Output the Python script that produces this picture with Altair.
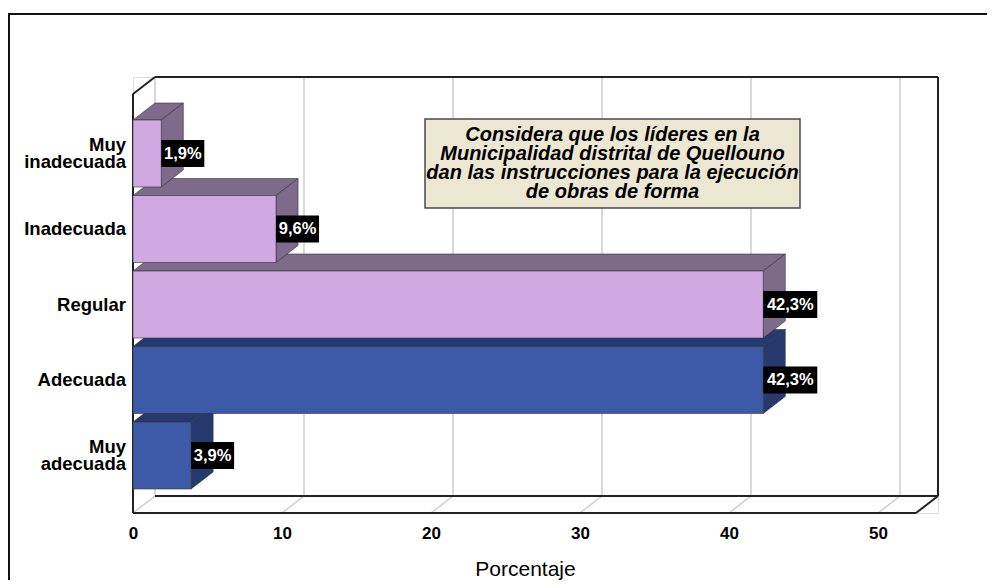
import altair as alt
import pandas as pd

# ---------------- data ----------------
categories = ["Muy inadecuada", "Inadecuada", "Regular", "Adecuada", "Muy adecuada"]
category_labels = ["Muy\ninadecuada", "Inadecuada", "Regular", "Adecuada", "Muy\nadecuada"]
percentages = [1.9, 9.6, 42.3, 42.3, 3.9]
value_labels = ["1,9%", "9,6%", "42,3%", "42,3%", "3,9%"]
face_colors = ["#D0A9E3", "#D0A9E3", "#D0A9E3", "#3D5AA8", "#3D5AA8"]
shade_colors = ["#7E6A8B", "#7E6A8B", "#7E6A8B", "#26396F", "#26396F"]
x_ticks = [0, 10, 20, 30, 40, 50]
x_title = "Porcentaje"
box_title = [
    "Considera que los líderes en la",
    "Municipalidad distrital de Quellouno",
    "dan las instrucciones para la ejecución",
    "de obras de forma",
]

# ---------------- layout ----------------
W, H = 805, 436
PX_X = 14.9                 # pixels per percentage point
X_MAX = W / PX_X
PX_Y = 75.5                 # pixels per category step
Y_MIN = -76.5 / PX_Y
Y_MAX = Y_MIN + H / PX_Y
DX = 22 / PX_X              # 3D depth (x)
DY = 17 / PX_Y              # 3D depth (y)
HALF = 33.5 / PX_Y          # half bar height
LBL_HALF = 13.5 / PX_Y      # half label-box height
CAT_LH = 17                 # line height of category labels (px)
TITLE_LH = 19               # line height of the boxed title (px)
FONT = "Liberation Sans, Arial, sans-serif"

xs = alt.Scale(domain=[0, X_MAX], nice=False, zero=False)
ys = alt.Scale(domain=[Y_MIN, Y_MAX], nice=False, zero=False, reverse=True)

x_axis = alt.Axis(
    values=x_ticks, format="d", domain=False, ticks=False, tickSize=0, grid=False,
    labelFont=FONT, labelFontSize=17, labelFontWeight="bold", labelColor="#000",
    labelPadding=12, labelFlush=False, labelOverlap=False, zindex=1,
    title=x_title, titleFont=FONT, titleFontSize=21, titleFontWeight="normal",
    titleColor="#000", titleX=392, titleY=62, titleBaseline="alphabetic", titleAlign="center",
)


def X(field="x"):
    return alt.X(f"{field}:Q", scale=xs, axis=x_axis)


def Y(field="y"):
    return alt.Y(f"{field}:Q", scale=ys, axis=None)


idx = list(range(len(categories)))

# ---------------- tables ----------------
front = pd.DataFrame({
    "cat": categories,
    "x": [0.0] * len(categories),
    "x2": percentages,
    "y": [i - HALF for i in idx],
    "y2": [i + HALF for i in idx],
    "fill": face_colors,
})

top_rows, side_rows = [], []
for i, v, c in zip(idx, percentages, shade_colors):
    t = i - HALF
    b = i + HALF
    top_rows += [
        {"cat": categories[i], "x": 0.0, "y": t, "y2": t, "fill": c},
        {"cat": categories[i], "x": DX, "y": t, "y2": t - DY, "fill": c},
        {"cat": categories[i], "x": v, "y": t, "y2": t - DY, "fill": c},
        {"cat": categories[i], "x": v + DX, "y": t - DY, "y2": t - DY, "fill": c},
    ]
    side_rows += [
        {"cat": categories[i], "x": v, "y": t, "y2": b, "fill": c},
        {"cat": categories[i], "x": v + DX, "y": t - DY, "y2": b - DY, "fill": c},
    ]
top_df = pd.DataFrame(top_rows)
side_df = pd.DataFrame(side_rows)

grid_rows = []
for t in x_ticks:
    grid_rows.append({"x": t + DX, "x2": t + DX, "y": Y_MIN, "y2": Y_MAX - DY})
    grid_rows.append({"x": t, "x2": t + DX, "y": Y_MAX, "y2": Y_MAX - DY})
grid_df = pd.DataFrame(grid_rows)

frame_df = pd.DataFrame([
    {"x": 0, "x2": 0, "y": Y_MIN + DY, "y2": Y_MAX},
    {"x": 0, "x2": DX, "y": Y_MIN + DY, "y2": Y_MIN},
    {"x": DX, "x2": X_MAX, "y": Y_MIN, "y2": Y_MIN},
    {"x": X_MAX, "x2": X_MAX, "y": Y_MIN, "y2": Y_MAX - DY},
    {"x": X_MAX, "x2": X_MAX - DX, "y": Y_MAX - DY, "y2": Y_MAX},
    {"x": 0, "x2": X_MAX - DX, "y": Y_MAX, "y2": Y_MAX},
    {"x": DX, "x2": X_MAX, "y": Y_MAX - DY, "y2": Y_MAX - DY},
])

labels_df = pd.DataFrame({"x": percentages, "label": value_labels, "y": idx})

# category labels: first-line position so that the whole block is centred on the bar
cat_df = pd.DataFrame({
    "label": category_labels,
    "y": [i - (lab.count("\n") * CAT_LH / 2) / PX_Y for i, lab in zip(idx, category_labels)],
})
one = pd.DataFrame({"t": ["\n".join(box_title)]})

# ---------------- layers ----------------
border = alt.Chart(one).mark_rect(fill="white", fillOpacity=0, stroke="#111", strokeWidth=2).encode(
    x=alt.value(-124), x2=alt.value(W + 60), y=alt.value(-63), y2=alt.value(H + 100)
)

grid = alt.Chart(grid_df).mark_rule(color="#cccccc", strokeWidth=1.5).encode(
    x=X(), x2="x2:Q", y=Y(), y2="y2:Q"
)

frame = alt.Chart(frame_df).mark_rule(color="#222222", strokeWidth=2).encode(
    x=X(), x2="x2:Q", y=Y(), y2="y2:Q"
)

tops = alt.Chart(top_df).mark_area(stroke="#333333", strokeWidth=0.6, opacity=1).encode(
    x=X(), y=Y(), y2="y2:Q", detail="cat:N", color=alt.Color("fill:N", scale=None)
)

sides = alt.Chart(side_df).mark_area(stroke="#333333", strokeWidth=0.6, opacity=1).encode(
    x=X(), y=Y(), y2="y2:Q", detail="cat:N", color=alt.Color("fill:N", scale=None)
)

fronts = alt.Chart(front).mark_rect(stroke="#333333", strokeWidth=0.6).encode(
    x=X(), x2="x2:Q", y=Y(), y2="y2:Q", color=alt.Color("fill:N", scale=None)
)

lbl_base = alt.Chart(labels_df).transform_calculate(
    xe=f"datum.x + (11 * length(datum.label) - 1) / {PX_X}",
    xc=f"datum.x + (11 * length(datum.label) - 1) / (2 * {PX_X})",
    yt=f"datum.y - {LBL_HALF}",
    yb=f"datum.y + {LBL_HALF}",
)
lbl_box = lbl_base.mark_rect(color="black").encode(
    x=X(), x2="xe:Q", y=Y("yt"), y2="yb:Q"
)
lbl_text = lbl_base.mark_text(
    color="white", font=FONT, fontSize=16.5, fontWeight="bold", align="center", baseline="middle"
).encode(x=X("xc"), y=Y(), text="label:N")

cat_text = alt.Chart(cat_df).mark_text(
    align="right", baseline="middle", lineBreak="\n", font=FONT, fontSize=18.5,
    fontWeight="bold", lineHeight=CAT_LH, color="black"
).encode(x=alt.value(-7), y=Y(), text="label:N")

title_box = alt.Chart(one).mark_rect(fill="#ECE7D3", stroke="#4a4a4a", strokeWidth=1.5).encode(
    x=alt.value(292), x2=alt.value(667), y=alt.value(42), y2=alt.value(131)
)
title_text = alt.Chart(one).mark_text(
    align="center", baseline="middle", lineBreak="\n", font=FONT, fontSize=20,
    fontWeight="bold", fontStyle="italic", lineHeight=TITLE_LH, color="black"
).encode(x=alt.value(479.5), y=alt.value(86.5 - 1.5 * TITLE_LH), text="t:N")

chart = alt.layer(
    border, grid, frame, tops, sides, fronts, lbl_box, lbl_text, cat_text, title_box, title_text
).properties(
    width=W, height=H,
    autosize=alt.AutoSizeParams(type="none"),
    padding={"left": 125, "top": 69, "right": 49, "bottom": 67},
).configure_view(strokeWidth=0).configure(background="white")

chart.save("out.html", embed_options={"renderer": "svg", "actions": False})
